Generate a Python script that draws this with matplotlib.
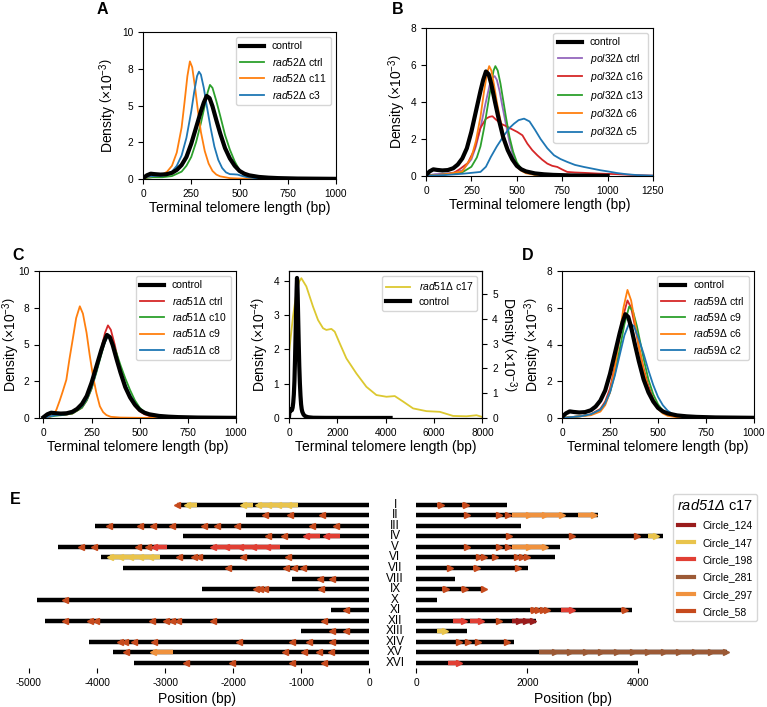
import matplotlib
matplotlib.use("Agg")
import matplotlib.pyplot as plt
import matplotlib.transforms as mtransforms
from matplotlib.lines import Line2D
from matplotlib.ticker import FormatStrFormatter

plt.rcParams['font.family'] = ['Liberation Sans', 'DejaVu Sans']
plt.rcParams['mathtext.fontset'] = 'custom'
plt.rcParams['mathtext.rm'] = 'Liberation Sans'
plt.rcParams['mathtext.it'] = 'Liberation Sans:italic'
plt.rcParams['axes.unicode_minus'] = False
plt.rcParams['xtick.labelsize'] = 7.3
plt.rcParams['ytick.labelsize'] = 7.3
plt.rcParams['axes.labelsize'] = 10
plt.rcParams['axes.labelpad'] = 2
plt.rcParams['legend.fontsize'] = 7.5

# -----------------------------------------------------
# density curves (x in bp, density in units of the axis label)
# -----------------------------------------------------
ctrl_x = [0, 20, 40, 60, 90, 120, 150, 175, 200, 225, 250, 275, 300, 315, 330, 345, 360, 380, 400,
          425, 450, 475, 500, 525, 550, 600, 650, 700, 800, 1000]
ctrl_y = [0.05, 0.25, 0.36, 0.33, 0.30, 0.32, 0.42, 0.62, 0.95, 1.5, 2.4, 3.5, 4.6, 5.2, 5.65, 5.5,
          4.95, 4.0, 3.1, 2.1, 1.4, 0.9, 0.55, 0.36, 0.25, 0.14, 0.09, 0.06, 0.03, 0.01]

# A - rad52
rad52_ctrl_x = [0, 25, 50, 100, 150, 200, 225, 250, 275, 300, 320, 335, 347, 360, 380, 400, 425, 450,
                475, 500, 525, 550, 600, 700, 1000]
rad52_ctrl_y = [0.02, 0.08, 0.12, 0.12, 0.2, 0.5, 0.9, 1.5, 2.5, 3.8, 5.0, 5.9, 6.4, 6.2, 5.3, 4.3,
                3.0, 2.0, 1.2, 0.6, 0.28, 0.14, 0.06, 0.03, 0.01]
rad52_c11_x = [0, 25, 50, 75, 100, 125, 150, 175, 200, 215, 230, 243, 255, 270, 285, 300, 320, 340,
               360, 380, 400, 450, 500, 600, 1000]
rad52_c11_y = [0.05, 0.12, 0.2, 0.22, 0.3, 0.5, 0.9, 1.8, 3.5, 5.2, 7.0, 8.0, 7.6, 6.2, 4.6, 3.2,
               1.9, 1.05, 0.55, 0.3, 0.18, 0.06, 0.03, 0.02, 0.01]
rad52_c3_x = [0, 25, 50, 100, 150, 175, 200, 225, 250, 265, 280, 290, 300, 315, 330, 350, 370, 390,
              410, 430, 450, 470, 490, 510, 540, 580, 650, 1000]
rad52_c3_y = [0.05, 0.15, 0.2, 0.22, 0.5, 0.9, 1.6, 2.8, 4.6, 5.9, 7.0, 7.3, 7.1, 6.2, 5.0, 3.5,
              2.2, 1.3, 0.75, 0.45, 0.33, 0.32, 0.3, 0.22, 0.12, 0.06, 0.03, 0.01]

# B - pol32
pol32_ctrl_x = [0, 50, 100, 150, 200, 250, 275, 300, 325, 350, 365, 378, 390, 405, 420, 440, 460,
                480, 500, 525, 550, 600, 650, 700, 1000]
pol32_ctrl_y = [0.02, 0.1, 0.12, 0.18, 0.3, 0.9, 1.6, 2.6, 3.8, 4.9, 5.3, 5.4, 5.2, 4.6, 3.8, 2.8,
                1.8, 1.1, 0.65, 0.38, 0.22, 0.1, 0.05, 0.03, 0.01]
pol32_c16_x = [0, 100, 150, 190, 230, 265, 300, 330, 350, 366, 385, 412, 440, 467, 503, 531, 558,
               585, 613, 640, 668, 695, 723, 750, 778, 820, 870, 950, 1050, 1150, 1250]
pol32_c16_y = [0.02, 0.08, 0.15, 0.4, 0.7, 1.4, 2.6, 3.1, 3.2, 3.23, 3.05, 2.83, 2.7, 2.56, 2.38,
               2.2, 1.75, 1.4, 1.12, 0.88, 0.67, 0.55, 0.49, 0.35, 0.22, 0.19, 0.17, 0.13, 0.1,
               0.05, 0.02]
pol32_c13_x = [0, 100, 200, 250, 280, 300, 320, 340, 360, 372, 382, 395, 410, 425, 440, 460, 480,
               500, 525, 550, 600, 700, 1000]
pol32_c13_y = [0.02, 0.08, 0.2, 0.5, 1.0, 1.6, 2.6, 3.8, 5.0, 5.7, 5.94, 5.7, 5.0, 4.1, 3.2, 2.1,
               1.3, 0.75, 0.38, 0.2, 0.07, 0.02, 0.01]
pol32_c6_x = [0, 100, 200, 250, 275, 300, 320, 335, 348, 360, 375, 390, 410, 430, 450, 475, 500,
              525, 550, 600, 700, 1000]
pol32_c6_y = [0.02, 0.08, 0.25, 1.0, 1.9, 3.2, 4.6, 5.5, 5.94, 5.7, 4.9, 4.0, 3.0, 2.1, 1.45, 0.85,
              0.5, 0.28, 0.15, 0.06, 0.02, 0.01]
pol32_c5_x = [0, 100, 200, 250, 300, 330, 357, 390, 430, 460, 485, 510, 540, 570, 600, 631, 668,
              705, 740, 778, 820, 869, 915, 961, 1000, 1052, 1110, 1162, 1250]
pol32_c5_y = [0.02, 0.05, 0.12, 0.17, 0.22, 0.5, 1.03, 1.6, 2.2, 2.6, 2.83, 3.02, 3.1, 2.95, 2.5,
              2.0, 1.5, 1.12, 0.92, 0.76, 0.6, 0.49, 0.4, 0.31, 0.25, 0.16, 0.09, 0.05, 0.02]

# C - rad51
rad51_ctrl_x = [0, 30, 60, 100, 150, 200, 225, 250, 275, 300, 320, 335, 350, 370, 390, 410, 430,
                450, 475, 500, 525, 550, 600, 700, 1000]
rad51_ctrl_y = [0.0, 0.1, 0.2, 0.2, 0.3, 0.7, 1.2, 2.0, 3.2, 4.7, 5.8, 6.3, 6.0, 5.0, 3.8, 2.8,
                2.0, 1.35, 0.8, 0.45, 0.25, 0.14, 0.06, 0.02, 0.01]
rad51_c10_x = [0, 30, 60, 100, 150, 200, 225, 250, 275, 300, 315, 330, 345, 360, 380, 400, 425,
               450, 475, 500, 525, 550, 600, 700, 1000]
rad51_c10_y = [0.0, 0.08, 0.15, 0.2, 0.3, 0.7, 1.2, 2.0, 3.1, 4.3, 5.0, 5.55, 5.5, 5.1, 4.4, 3.6,
               2.7, 1.9, 1.2, 0.7, 0.4, 0.22, 0.08, 0.03, 0.01]
rad51_c9_x = [0, 30, 50, 67, 85, 100, 119, 135, 154, 170, 189, 205, 224, 240, 258, 275, 293, 310,
              327, 350, 400, 500, 1000]
rad51_c9_y = [0.0, 0.05, 0.2, 0.55, 1.2, 1.8, 2.6, 4.0, 5.5, 6.8, 7.6, 7.1, 5.8, 4.3, 2.8, 1.7,
              0.8, 0.4, 0.2, 0.08, 0.03, 0.01, 0.01]
rad51_c8_x = [0, 30, 60, 100, 150, 200, 225, 250, 275, 300, 315, 330, 345, 360, 380, 400, 425,
              450, 475, 500, 525, 550, 600, 700, 1000]
rad51_c8_y = [0.0, 0.1, 0.18, 0.22, 0.35, 0.8, 1.3, 2.1, 3.2, 4.4, 5.0, 5.5, 5.45, 5.0, 4.1, 3.2,
              2.3, 1.55, 1.0, 0.6, 0.35, 0.2, 0.08, 0.03, 0.01]
# rad51 c17, x10^-4
rad51_c17_x = [0, 165, 303, 420, 510, 717, 993, 1200, 1407, 1545, 1752, 1890, 2097, 2372, 2786,
               3200, 3614, 4028, 4372, 4717, 5131, 5683, 6234, 6786, 7338, 7752, 8000]
rad51_c17_y = [1.9, 2.96, 3.64, 3.98, 4.08, 3.84, 3.25, 2.86, 2.62, 2.57, 2.6, 2.52, 2.18, 1.74,
               1.3, 0.91, 0.67, 0.62, 0.64, 0.48, 0.28, 0.2, 0.18, 0.06, 0.05, 0.08, 0.03]
ctrl_tail_x = [1500, 2500, 4200]
ctrl_tail_y = [0.005, 0.003, 0.002]

# D - rad59
rad59_ctrl_x = [0, 50, 100, 150, 200, 225, 250, 275, 300, 320, 341, 360, 380, 400, 425, 450, 475,
                500, 525, 550, 600, 700, 1000]
rad59_ctrl_y = [0.0, 0.05, 0.1, 0.2, 0.5, 0.9, 1.6, 2.8, 4.4, 5.6, 6.4, 6.0, 5.0, 3.9, 2.7, 1.75,
                1.05, 0.6, 0.32, 0.17, 0.06, 0.02, 0.01]
rad59_c9_x = [0, 50, 100, 150, 200, 225, 250, 275, 300, 325, 350, 370, 390, 410, 430, 450, 475,
              500, 525, 550, 600, 700, 1000]
rad59_c9_y = [0.0, 0.05, 0.1, 0.18, 0.45, 0.8, 1.4, 2.4, 3.7, 5.1, 6.07, 5.8, 5.0, 4.0, 3.0, 2.1,
              1.3, 0.75, 0.4, 0.2, 0.07, 0.02, 0.01]
rad59_c6_x = [0, 50, 100, 150, 200, 225, 250, 275, 300, 320, 341, 360, 380, 400, 425, 450, 475,
              500, 525, 550, 600, 700, 1000]
rad59_c6_y = [0.0, 0.05, 0.1, 0.15, 0.35, 0.7, 1.4, 2.7, 4.5, 6.0, 6.97, 6.4, 5.2, 3.9, 2.6, 1.6,
              0.95, 0.5, 0.25, 0.12, 0.04, 0.02, 0.01]
rad59_c2_x = [0, 50, 100, 150, 200, 225, 250, 275, 300, 325, 350, 375, 400, 425, 450, 475, 500,
              525, 550, 575, 600, 700, 1000]
rad59_c2_y = [0.0, 0.05, 0.1, 0.2, 0.45, 0.8, 1.4, 2.3, 3.4, 4.5, 5.16, 5.0, 4.3, 3.5, 2.6, 1.8,
              1.15, 0.7, 0.4, 0.22, 0.12, 0.03, 0.01]

# -----------------------------------------------------
# E - circle insertions along chromosome ends
# -----------------------------------------------------
chroms = ['I', 'II', 'III', 'IV', 'V', 'VI', 'VII', 'VIII', 'IX', 'X', 'XI', 'XII', 'XIII', 'XIV',
          'XV', 'XVI']
left_len = [2760, 1812, 4030, 2733, 4569, 3942, 3624, 1131, 2458, 4887, 568, 4765, 999, 4114,
            3761, 3457]
right_len = [1640, 3273, 1886, 4450, 2589, 2498, 2006, 703, 1190, 366, 3892, 2150, 919, 1754,
             5590, 4000]

circle_names = ['Circle_124', 'Circle_147', 'Circle_198', 'Circle_281', 'Circle_297', 'Circle_58']
circle_colors = ['#9a1c1c', '#e9c44c', '#e13f34', '#9c5a36', '#f0923e', '#c64a1d']

# Circle_58 single copies: centre position (bp from 0) per chromosome
c58_left = [[2790], [1508, 1136, 661],
            [3800, 3345, 3144, 2865, 2400, 2204, 1915, 808, 465],
            [1459, 1229], [4200, 4016, 3375, 3222], [2767, 2550, 2475, 1820, 1166],
            [2047, 1197, 1084, 950], [700, 514], [1641, 1572, 1508, 676], [4447], [318],
            [4447, 4079, 3991, 3159, 2953, 2865, 2782, 2267, 637], [519, 318],
            [3629, 3565, 3428, 3134, 1885, 1102, 857, 514], [3550, 1205, 930, 710, 539],
            [2659, 1983, 1102, 637]]
c58_right = [[408, 859], [889, 1459, 1622], [], [1640, 2775, 3947], [889, 1459, 1622],
             [1099, 1189, 1387, 1790, 1880, 1970], [577, 1057, 1802], [], [498, 841, 1189], [],
             [2085, 2170, 2250, 2325, 3724], [1459], [], [739, 901, 1081, 1610], [], []]

# tandem runs of the longer circles: (chromosome index, circle, inner edge bp, copies)
runs_left = [(0, 'Circle_147', 2527, 1), (0, 'Circle_147', 1704, 1), (0, 'Circle_147', 1043, 4),
             (3, 'Circle_198', 725, 1), (3, 'Circle_198', 431, 1),
             (4, 'Circle_198', 2965, 1), (4, 'Circle_198', 1312, 5),
             (5, 'Circle_147', 3075, 5), (14, 'Circle_297', 2880, 1)]
runs_right = [(1, 'Circle_297', 1730, 3), (1, 'Circle_297', 2913, 1), (3, 'Circle_147', 4180, 1),
              (4, 'Circle_297', 1730, 2), (10, 'Circle_198', 2600, 1), (11, 'Circle_198', 661, 1),
              (11, 'Circle_198', 961, 1), (11, 'Circle_124', 1730, 3), (12, 'Circle_147', 378, 1),
              (14, 'Circle_281', 2210, 12), (15, 'Circle_198', 577, 1)]

# -----------------------------------------------------
W, H = 767, 707
figure = plt.figure(figsize=(W / 100, H / 100), dpi=100)


def box(l, t, r, b):
    return [l / W, 1 - b / H, (r - l) / W, (b - t) / H]


def dens_label(p):
    return r"Density $\left(\times10^{%d}\right)$" % p


def lbl(gene, clone):
    return r"$\mathit{%s}$%sΔ %s" % (gene[:3], gene[3:], clone)


def density_panel(rect, curves, xlim, xticks, ylim, yticks, fmt=None):
    ax = figure.add_axes(rect)
    handles = []
    for x, y, c, label in curves:
        line, = ax.plot(x, y, color=c, lw=1.3, label=label)
        handles.append(line)
    ctrl, = ax.plot(ctrl_x, ctrl_y, color='black', lw=3, label='control')
    ax.legend(handles=[ctrl] + handles, loc='upper right', handlelength=2.3, labelspacing=0.42)
    ax.set_xlim(*xlim)
    ax.set_xticks(xticks)
    ax.set_ylim(*ylim)
    ax.set_yticks(yticks)
    if fmt:
        ax.yaxis.set_major_formatter(FormatStrFormatter(fmt))
    ax.set_xlabel("Terminal telomere length (bp)")
    ax.set_ylabel(dens_label(-3))
    return ax


tab_blue, tab_orange, tab_green, tab_red, tab_purple = '#1f77b4', '#ff7f0e', '#2ca02c', '#d62728', '#9467bd'

axA = density_panel(box(143, 32, 336, 179),
                    [(rad52_ctrl_x, rad52_ctrl_y, tab_green, lbl('rad52', 'ctrl')),
                     (rad52_c11_x, rad52_c11_y, tab_orange, lbl('rad52', 'c11')),
                     (rad52_c3_x, rad52_c3_y, tab_blue, lbl('rad52', 'c3'))],
                    (0, 1000), [0, 250, 500, 750, 1000], (0, 10), [0, 2.5, 5, 7.5, 10], '%.0f')

axB = density_panel(box(426, 28, 653, 176),
                    [(pol32_ctrl_x, pol32_ctrl_y, tab_purple, lbl('pol32', 'ctrl')),
                     (pol32_c16_x, pol32_c16_y, tab_red, lbl('pol32', 'c16')),
                     (pol32_c13_x, pol32_c13_y, tab_green, lbl('pol32', 'c13')),
                     (pol32_c6_x, pol32_c6_y, tab_orange, lbl('pol32', 'c6')),
                     (pol32_c5_x, pol32_c5_y, tab_blue, lbl('pol32', 'c5'))],
                    (0, 1250), [0, 250, 500, 750, 1000, 1250], (0, 8), [0, 2, 4, 6, 8])

axC = density_panel(box(39, 271, 236, 418),
                    [(rad51_ctrl_x, rad51_ctrl_y, tab_red, lbl('rad51', 'ctrl')),
                     (rad51_c10_x, rad51_c10_y, tab_green, lbl('rad51', 'c10')),
                     (rad51_c9_x, rad51_c9_y, tab_orange, lbl('rad51', 'c9')),
                     (rad51_c8_x, rad51_c8_y, tab_blue, lbl('rad51', 'c8'))],
                    (-23, 1000), [0, 250, 500, 750, 1000], (0, 10), [0, 2.5, 5, 7.5, 10], '%.0f')
axC.yaxis.set_label_coords(-0.085, 0.5)

axD = density_panel(box(562, 271, 754, 418),
                    [(rad59_ctrl_x, rad59_ctrl_y, tab_red, lbl('rad59', 'ctrl')),
                     (rad59_c9_x, rad59_c9_y, tab_green, lbl('rad59', 'c9')),
                     (rad59_c6_x, rad59_c6_y, tab_orange, lbl('rad59', 'c6')),
                     (rad59_c2_x, rad59_c2_y, tab_blue, lbl('rad59', 'c2'))],
                    (0, 1000), [0, 250, 500, 750, 1000], (0, 8), [0, 2, 4, 6, 8])

# C middle: twin axes
axM = figure.add_axes(box(289, 271, 482.5, 418))
axM2 = axM.twinx()
yl, = axM.plot(rad51_c17_x, rad51_c17_y, color='#dcc830', lw=1.3)
kl, = axM2.plot(ctrl_x + ctrl_tail_x, ctrl_y + ctrl_tail_y, color='black', lw=3)
axM.set_xlim(0, 8000)
axM.set_xticks([0, 2000, 4000, 6000, 8000])
axM.set_ylim(0, 4.29)
axM.set_yticks([0, 1, 2, 3, 4])
axM2.set_ylim(0, 5.93)
axM2.set_yticks([0, 1, 2, 3, 4, 5])
axM.set_xlabel("Terminal telomere length (bp)")
axM.set_ylabel(dens_label(-4))
axM2.set_ylabel(dens_label(-3), rotation=270, labelpad=15)
axM2.legend([yl, kl], [lbl('rad51', 'c17'), 'control'], loc='upper right', handlelength=2.3,
            labelspacing=0.42)

# panel letters
for letter, px, py in [('A', 97, 9), ('B', 392, 9), ('C', 12, 255), ('D', 522, 255), ('E', 10, 500)]:
    figure.text(px / W, 1 - py / H, letter, fontsize=11.5, fontweight='bold', va='center')

# ---------------- E ----------------
axEL = figure.add_axes(box(20, 497, 375, 668))
axER = figure.add_axes(box(410, 497, 735, 668))
circ_len = {n: int(n.split('_')[1]) for n in circle_names}
circ_col = dict(zip(circle_names, circle_colors))


def draw_run(ax, row, sign, name, inner, n):
    L = circ_len[name]
    col = circ_col[name]
    ax.plot([sign * inner, sign * (inner + n * L)], [row, row], color=col, lw=3.2,
            solid_capstyle='butt', zorder=3)
    heads = [sign * (inner + (k + 1) * L) for k in range(n)]
    ax.plot(heads, [row] * n, ls='none', marker='<' if sign < 0 else '>', ms=5,
            color=col, mec=col, zorder=4)


for i in range(len(chroms)):
    axEL.plot([-left_len[i], 0], [i, i], color='black', lw=3.2, solid_capstyle='butt', zorder=2)
    axER.plot([0, right_len[i]], [i, i], color='black', lw=3.2, solid_capstyle='butt', zorder=2)
    for c in c58_left[i]:
        draw_run(axEL, i, -1, 'Circle_58', c - 29, 1)
    for c in c58_right[i]:
        draw_run(axER, i, 1, 'Circle_58', c - 29, 1)
for row, name, inner, n in runs_left:
    draw_run(axEL, row, -1, name, inner, n)
for row, name, inner, n in runs_right:
    draw_run(axER, row, 1, name, inner, n)

for ax in (axEL, axER):
    ax.set_ylim(15.47, -0.73)
    ax.set_yticks([])
    for s in ax.spines.values():
        s.set_visible(False)
    ax.set_xlabel("Position (bp)", labelpad=3)
axEL.set_xlim(-5132, 84)
axEL.set_xticks([-5000, -4000, -3000, -2000, -1000, 0])
axER.set_xlim(-113.5, 5742)
axER.set_xticks([0, 2000, 4000])

trans = mtransforms.blended_transform_factory(figure.transFigure, axER.transData)
for i, ch in enumerate(chroms):
    axER.text(395 / W, i, ch, transform=trans, ha='center', va='center', fontsize=8.5)

handles = [Line2D([], [], color=c, lw=3) for c in circle_colors]
legE = axER.legend(handles, circle_names, loc='upper left',
                   bbox_to_anchor=(673 / W, 1 - 494 / H), bbox_transform=figure.transFigure,
                   borderaxespad=0, handlelength=1.5, labelspacing=0.7,
                   title="rad51Δ $\\mathrm{c17}$",
                   title_fontproperties={'style': 'italic', 'size': 10.5})

figure.savefig("out.png", dpi=100)
